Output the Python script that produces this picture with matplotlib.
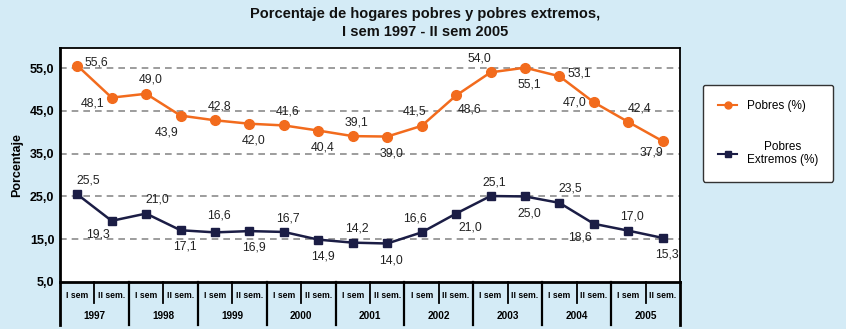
import matplotlib.pyplot as plt
import matplotlib.transforms as mtransforms
from matplotlib.lines import Line2D

# data
years = ["1997", "1998", "1999", "2000", "2001", "2002", "2003", "2004", "2005"]
semesters = ["I sem", "II sem."] * len(years)
pobres = [55.6, 48.1, 49.0, 43.9, 42.8, 42.0, 41.6, 40.4, 39.1, 39.0,
          41.5, 48.6, 54.0, 55.1, 53.1, 47.0, 42.4, 37.9]
extremos = [25.5, 19.3, 21.0, 17.1, 16.6, 16.9, 16.7, 14.9, 14.2, 14.0,
            16.6, 21.0, 25.1, 25.0, 23.5, 18.6, 17.0, 15.3]
yticks = [5, 15, 25, 35, 45, 55]

# where each value label sits relative to its point (offset in points)
pos_pobres = [(14, 2), (-14, -4), (3, 10), (-10, -12), (3, 10), (3, -12),
              (3, 10), (3, -12), (3, 10), (3, -12), (-5, 10), (10, -10),
              (-8, 10), (3, -12), (14, 2), (-14, 0), (8, 10), (-8, -8)]
pos_extremos = [(8, 10), (-10, -10), (8, 10), (3, -12), (3, 12), (3, -12),
                (3, 10), (3, -12), (3, 10), (3, -12), (-5, 10), (10, -10),
                (3, 10), (3, -12), (8, 10), (-10, -10), (3, 10), (3, -12)]

orange = "#f26b1d"
navy = "#1b1d45"
bg = "#d4ebf6"
font = "Liberation Sans"

fig = plt.figure(figsize=(8.46, 3.29), dpi=100, facecolor=bg)
W, H = 846, 329
ax = fig.add_axes([60 / W, (H - 282) / H, 620 / W, (282 - 48) / H])
ax.set_facecolor("white")

x = list(range(len(pobres)))
for y in yticks[1:]:
    ax.axhline(y, color="#8c8c8c", lw=1.2, ls=(0, (4, 3)), zorder=1)

ax.plot(x, pobres, color=orange, lw=1.8, marker="o", ms=7, zorder=3)
ax.plot(x, extremos, color=navy, lw=1.8, marker="s", ms=6, zorder=3)

for i in x:
    ax.annotate(f"{pobres[i]:.1f}".replace(".", ","), (i, pobres[i]),
                xytext=pos_pobres[i], textcoords="offset points",
                ha="center", va="center", fontsize=8.8, color="#222222",
                family=font)
    ax.annotate(f"{extremos[i]:.1f}".replace(".", ","), (i, extremos[i]),
                xytext=pos_extremos[i], textcoords="offset points",
                ha="center", va="center", fontsize=8.8, color="#222222",
                family=font)

ax.set_xlim(-0.5, len(pobres) - 0.5)
ax.set_ylim(5, 59.7)
ax.set_yticks(yticks)
ax.set_yticklabels([f"{v:.1f}".replace(".", ",") for v in yticks],
                   fontsize=9, fontweight="bold", family=font)
ax.tick_params(axis="y", length=0, pad=4)
ax.set_xticks([])
ax.set_ylabel("Porcentaje", fontsize=9, fontweight="bold",
              family=font, labelpad=5)

for s in ["top", "right"]:
    ax.spines[s].set_linewidth(1.3)
for s in ["left", "bottom"]:
    ax.spines[s].set_linewidth(2)

# category table below the axis
trans = mtransforms.blended_transform_factory(ax.transData, ax.transAxes)
ph = 1 / (282 - 48)
for i in x:
    ax.text(i, -14 * ph, semesters[i], transform=trans, ha="center", va="center",
            fontsize=6.2, fontweight="bold", family=font)
    if i % 2 == 1:
        ax.add_line(Line2D([i - 0.5, i - 0.5], [0, -21 * ph], transform=trans,
                           color="black", lw=1.3, clip_on=False))
for k, yr in enumerate(years):
    ax.text(2 * k + 0.5, -34 * ph, yr, transform=trans, ha="center", va="center",
            fontsize=7.2, fontweight="bold", family=font)
for k in range(len(years) + 1):
    ax.add_line(Line2D([2 * k - 0.5, 2 * k - 0.5], [0, -43 * ph], transform=trans,
                       color="black", lw=1.6 if 0 < k < len(years) else 2,
                       clip_on=False))

fig.text(425 / W, 1 - 23 / H, "Porcentaje de hogares pobres y pobres extremos,\nI sem 1997 - II sem 2005",
         ha="center", va="center", fontsize=10.5, fontweight="bold",
         family=font, linespacing=1.3, color="#111111")

h1 = Line2D([], [], color=orange, lw=1.5, marker="o", ms=5)
h2 = Line2D([], [], color=navy, lw=1.5, marker="s", ms=5)
leg = fig.legend([h1, h2], ["Pobres (%)", "Pobres\nExtremos (%)"],
                 loc="upper left", bbox_to_anchor=(703 / W, 1 - 85 / H),
                 frameon=True, fancybox=True, handlelength=1.6,
                 labelspacing=2.4, borderpad=1.3, handletextpad=0.8,
                 borderaxespad=0, framealpha=1,
                 prop={"family": font, "size": 8.5})
leg.get_frame().set_edgecolor("#333333")
leg.get_frame().set_linewidth(1.0)
for t in leg.get_texts():
    t.set_multialignment("center")

fig.savefig("out.png", dpi=100, facecolor=bg)
